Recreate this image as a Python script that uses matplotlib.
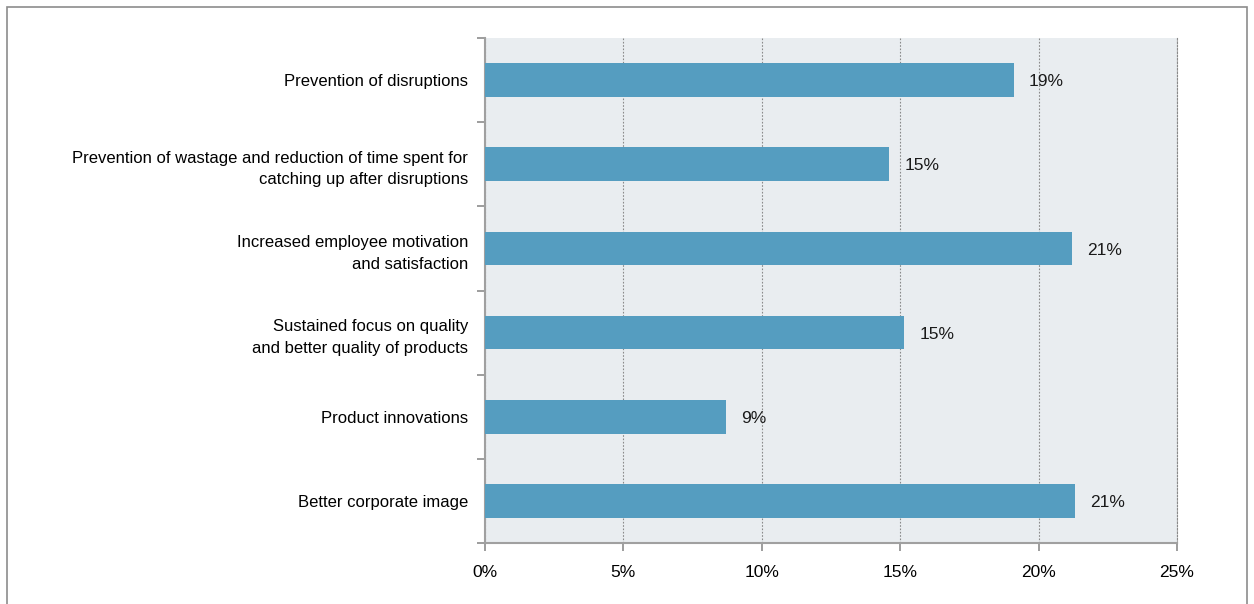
import matplotlib.pyplot as plt
from matplotlib.patches import Rectangle
from matplotlib.ticker import FixedLocator, NullFormatter

plt.rcParams['font.family'] = ['Liberation Sans', 'DejaVu Sans']

categorias = [
    "Prevention of disruptions",
    "Prevention of wastage and reduction of time spent for\ncatching up after disruptions",
    "Increased employee motivation\nand satisfaction",
    "Sustained focus on quality\nand better quality of products",
    "Product innovations",
    "Better corporate image",
]
valores = [19.1, 14.6, 21.2, 15.15, 8.7, 21.3]
etiquetas = ["19%", "15%", "21%", "15%", "9%", "21%"]
ticks_x = [0, 5, 10, 15, 20, 25]

fig = plt.figure(figsize=(12.54, 6.04), dpi=100)
fig.patches.append(Rectangle((7 / 1254, -0.01), 1240 / 1254, 1 - 7 / 604 + 0.01,
                             transform=fig.transFigure, fill=False,
                             edgecolor="#8c8c8c", linewidth=1.2))
ax = fig.add_axes([485 / 1254, 1 - 543 / 604, 692 / 1254, 505 / 604])
ax.set_facecolor("#e9edf0")

pos = list(range(len(categorias)))
ax.barh(pos, valores, height=0.4, color="#559dc0", zorder=3)
for p, v, t in zip(pos, valores, etiquetas):
    ax.text(v + 0.55, p + 0.02, t, va="center", ha="left", fontsize=12.5, color="#1a1a1a", zorder=4)

ax.set_xlim(0, 25)
ax.set_ylim(len(categorias) - 0.5, -0.5)
ax.set_xticks(ticks_x)
ax.set_xticklabels([f"{t}%" for t in ticks_x], fontsize=12.5)
ax.xaxis.grid(True, linestyle=(0, (1.5, 1.5)), color="#8a8a8a", linewidth=0.8, zorder=1)

ax.set_yticks(pos)
ax.set_yticklabels(categorias, fontsize=12, linespacing=1.55)
ax.tick_params(axis="y", which="major", length=0, pad=12)
ax.yaxis.set_minor_locator(FixedLocator([p - 0.5 for p in pos] + [len(pos) - 0.5]))
ax.yaxis.set_minor_formatter(NullFormatter())
ax.tick_params(axis="y", which="minor", length=6, color="#8c8c8c", width=1.2)
ax.tick_params(axis="x", length=6, color="#8c8c8c", width=1.2, pad=10)

ax.spines["top"].set_visible(False)
ax.spines["right"].set_linestyle((0, (1.5, 1.5)))
ax.spines["right"].set_color("#8a8a8a")
ax.spines["right"].set_linewidth(0.8)
for s in ["left", "bottom"]:
    ax.spines[s].set_color("#a0a0a0")
    ax.spines[s].set_linewidth(1.5)

fig.savefig("out.png", dpi=100)
